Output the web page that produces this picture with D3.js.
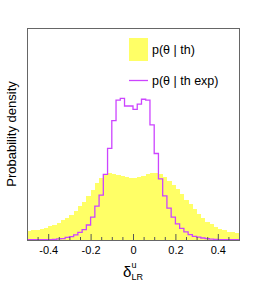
<!DOCTYPE html>
<html>
<head>
<meta charset="utf-8">
<script src="https://cdn.jsdelivr.net/npm/d3@7"></script>
<style>
  body { margin: 0; background: #fff; }
  svg { display: block; font-family: "Liberation Sans", Arial, sans-serif; }
</style>
</head>
<body>
<div id="viz"></div>
<script>
// histogram range, 50 bins of 0.02
const xMin = -0.5,
    xMax = 0.5,
    binCount = 50;

// p(theta | th) - filled yellow histogram
const thValues = [0.32, 0.34, 0.35, 0.39, 0.42, 0.48, 0.53, 0.60, 0.69, 0.78,
    0.90, 1.04, 1.19, 1.36, 1.56, 1.77, 2.02, 2.19, 2.32, 2.37,
    2.35, 2.30, 2.26, 2.23, 2.21, 2.21, 2.23, 2.28, 2.33, 2.37,
    2.37, 2.33, 2.23, 2.09, 1.95, 1.79, 1.61, 1.43, 1.26, 1.08,
    0.92, 0.78, 0.65, 0.55, 0.46, 0.39, 0.34, 0.30, 0.27, 0.25];

// p(theta | th exp) - magenta outline histogram
const thExpValues = [0.01, 0.01, 0.01, 0.01, 0.01, 0.01, 0.02, 0.04, 0.05, 0.09,
    0.12, 0.18, 0.27, 0.37, 0.53, 0.81, 1.20, 1.59, 2.32, 3.24,
    4.22, 4.95, 5.01, 4.74, 4.74, 4.62, 4.81, 4.98, 4.95, 4.07,
    3.06, 2.16, 1.56, 1.13, 0.81, 0.57, 0.41, 0.29, 0.19, 0.13,
    0.10, 0.07, 0.05, 0.03, 0.02, 0.01, 0.01, 0.01, 0.01, 0.01];

const majorTicks = [-0.4, -0.2, 0, 0.2, 0.4];
const legendLabels = ['p(θ | th)', 'p(θ | th exp)'];
const yTitle = 'Probability density';

const W = 266, H = 283,
    margin = {top: 28, right: 27, bottom: 43, left: 27},
    width = W - margin.left - margin.right,
    height = H - margin.top - margin.bottom,
    yMax = 7.5,
    yellow = '#ffff66',
    violet = '#cc44ff';

const binWidth = (xMax - xMin) / binCount;
const edges = d3.range(binCount + 1).map(i => xMin + i * binWidth);

const x = d3.scaleLinear().domain([xMin, xMax]).range([margin.left, margin.left + width]);
const y = d3.scaleLinear().domain([0, yMax]).range([margin.top + height, margin.top]);

const svg = d3.select('#viz').append('svg')
    .attr('width', W)
    .attr('height', H);

// yellow bars
svg.append('g')
    .selectAll('rect')
    .data(thValues)
    .enter().append('rect')
    .attr('x', (d, i) => x(edges[i]))
    .attr('width', (d, i) => x(edges[i + 1]) - x(edges[i]) + 0.4)
    .attr('y', d => y(d))
    .attr('height', d => y(0) - y(d))
    .attr('fill', yellow)
    .attr('shape-rendering', 'crispEdges');

// step outline for the magenta histogram
const stepPts = [];
thExpValues.forEach((v, i) => {
    stepPts.push([edges[i], v]);
    stepPts.push([edges[i + 1], v]);
});
const line = d3.line()
    .x(d => x(d[0]))
    .y(d => y(d[1]));

svg.append('path')
    .datum(stepPts)
    .attr('d', line)
    .attr('fill', 'none')
    .attr('stroke', violet)
    .attr('stroke-width', 1.3);

// minor + major ticks pointing up into the frame
const minorTicks = d3.range(-0.45, 0.5, 0.05)
    .map(v => Math.round(v * 100) / 100)
    .filter(v => !majorTicks.includes(v));

svg.append('g')
    .attr('transform', `translate(0,${y(0)})`)
    .call(d3.axisBottom(x).tickValues(minorTicks).tickSize(-3).tickFormat(''))
    .call(g => g.select('.domain').remove())
    .call(g => g.selectAll('line').attr('stroke', '#555'));

svg.append('g')
    .attr('transform', `translate(0,${y(0)})`)
    .call(d3.axisBottom(x).tickValues(majorTicks).tickSize(-6).tickPadding(6)
        .tickFormat(d => d === 0 ? '0' : d3.format('.1f')(d).replace('−', '-')))
    .call(g => g.select('.domain').remove())
    .call(g => g.selectAll('line').attr('stroke', '#555'))
    .call(g => g.selectAll('text')
        .attr('font-size', 11)
        .attr('font-family', '"Liberation Sans", Arial, sans-serif')
        .attr('fill', '#000'));

// frame
svg.append('rect')
    .attr('x', margin.left)
    .attr('y', margin.top)
    .attr('width', width)
    .attr('height', height)
    .attr('fill', 'none')
    .attr('stroke', '#666')
    .attr('shape-rendering', 'crispEdges');

// x title: delta^u_LR
const cx = x(0);
svg.append('text')
    .attr('x', cx - 10)
    .attr('y', 277)
    .attr('font-size', 15)
    .text('δ');
svg.append('text')
    .attr('x', cx - 1.5)
    .attr('y', 267.5)
    .attr('font-size', 9)
    .text('u');
svg.append('text')
    .attr('x', cx - 1.5)
    .attr('y', 280)
    .attr('font-size', 9)
    .text('LR');

// y title
svg.append('text')
    .attr('transform', `translate(16,${margin.top + height / 2}) rotate(-90)`)
    .attr('text-anchor', 'middle')
    .attr('font-size', 13)
    .text(yTitle);

// legend
const legend = svg.append('g');
legend.append('rect')
    .attr('x', 129).attr('y', 38)
    .attr('width', 19).attr('height', 23)
    .attr('fill', yellow);
legend.append('text')
    .attr('x', 152).attr('y', 54)
    .attr('font-size', 12.5)
    .text(legendLabels[0]);
legend.append('line')
    .attr('x1', 129).attr('x2', 148)
    .attr('y1', 80.5).attr('y2', 80.5)
    .attr('stroke', violet)
    .attr('stroke-width', 1.3);
legend.append('text')
    .attr('x', 152).attr('y', 85)
    .attr('font-size', 12.5)
    .text(legendLabels[1]);
</script>
</body>
</html>
